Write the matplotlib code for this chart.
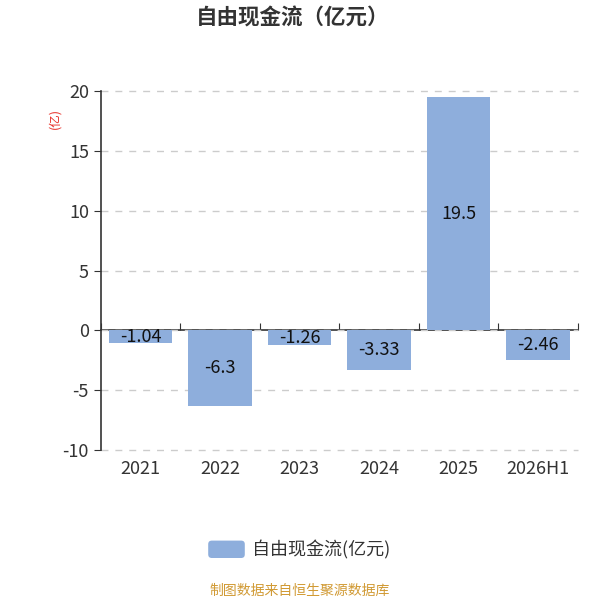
import numpy as np
import matplotlib.pyplot as plt
from matplotlib.patches import FancyBboxPatch

plt.rcParams['font.family'] = ['Noto Sans CJK SC', 'DejaVu Sans']

years = ["2021", "2022", "2023", "2024", "2025", "2026H1"]
fcf = [-1.04, -6.3, -1.26, -3.33, 19.5, -2.46]
value_labels = ["-1.04", "-6.3", "-1.26", "-3.33", "19.5", "-2.46"]
y_ticks = [-10, -5, 0, 5, 10, 15, 20]

BAR_COLOR = "#8eaedc"
TEXT_COLOR = "#333333"

fig = plt.figure(figsize=(6, 6), dpi=100)
ax = fig.add_axes([0.168, 0.25, 0.795, 0.598])

x = np.arange(len(years))
bars = ax.bar(x, fcf, width=0.8, color=BAR_COLOR, zorder=3)

# value labels in the middle of each bar
for b, txt in zip(bars, value_labels):
    ax.text(b.get_x() + b.get_width() / 2, b.get_height() / 2, txt,
            ha="center", va="center", fontsize=13, color="#111111", zorder=4)

ax.set_ylim(-10, 20)
ax.set_xlim(-0.5, len(years) - 0.5)
ax.set_yticks(y_ticks)
ax.set_yticklabels([str(v) for v in y_ticks], fontsize=13, color=TEXT_COLOR)
ax.tick_params(axis="y", length=5, color=TEXT_COLOR)

# dashed horizontal grid
ax.grid(axis="y", linestyle=(0, (5, 5)), color="#cccccc", linewidth=1, zorder=0)
ax.grid(axis="x", visible=False)
for gl in ax.get_ygridlines():
    gl.set_clip_on(False)

for side in ["top", "right", "bottom"]:
    ax.spines[side].set_visible(False)
ax.spines["left"].set_color(TEXT_COLOR)
ax.spines["left"].set_linewidth(1.2)

# category labels at the bottom
ax.set_xticks(x)
ax.set_xticklabels(years, fontsize=13, color=TEXT_COLOR)
ax.tick_params(axis="x", length=0, pad=7)

# zero axis line with boundary ticks pointing up
zero_ax = ax.secondary_xaxis(10 / 30)
zero_ax.set_xticks(np.arange(len(years) + 1) - 0.5)
zero_ax.set_xticklabels([])
zero_ax.tick_params(direction="in", length=5, color=TEXT_COLOR)
zero_ax.spines["bottom"].set_color(TEXT_COLOR)
zero_ax.spines["bottom"].set_linewidth(1.2)

# unit label
fig.text(0.092, 0.803, "(亿)", rotation=90, color="#e8322b", fontsize=9,
         ha="center", va="center")

fig.text(0.488, 0.97, "自由现金流（亿元）", fontsize=15.5, fontweight="bold",
         color=TEXT_COLOR, ha="center", va="center")

# legend
patch = FancyBboxPatch((0.347, 0.07), 0.061, 0.029,
                       boxstyle="round,pad=0,rounding_size=0.006",
                       transform=fig.transFigure, facecolor=BAR_COLOR,
                       edgecolor="none")
fig.patches.append(patch)
fig.text(0.42, 0.084, "自由现金流(亿元)", fontsize=13, color=TEXT_COLOR,
         ha="left", va="center")

fig.text(0.5, 0.015, "制图数据来自恒生聚源数据库", fontsize=10, color="#d19a34",
         ha="center", va="center")

fig.savefig("out.png", dpi=100)
